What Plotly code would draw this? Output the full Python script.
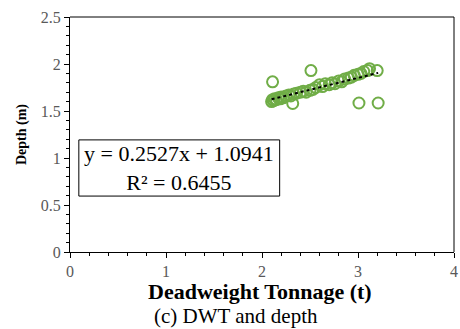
import plotly.graph_objects as go

# Deadweight tonnage (t) and depth (m) observations
dwt = [2.10, 2.11, 2.12, 2.13, 2.15, 2.17, 2.19, 2.20, 2.22, 2.25, 2.28, 2.30,
       2.33, 2.36, 2.40, 2.43, 2.46, 2.50, 2.53, 2.56, 2.60, 2.63, 2.66, 2.70,
       2.73, 2.76, 2.80, 2.83, 2.86, 2.90, 2.93, 2.96, 3.00, 3.03, 3.06, 3.10,
       2.11, 2.51, 2.32, 3.01, 3.21, 3.20, 3.12]
depth = [1.60, 1.62, 1.61, 1.63, 1.62, 1.64, 1.63, 1.65, 1.64, 1.66, 1.67, 1.66,
         1.68, 1.69, 1.70, 1.71, 1.70, 1.72, 1.73, 1.75, 1.78, 1.76, 1.79, 1.78,
         1.80, 1.79, 1.82, 1.81, 1.84, 1.85, 1.86, 1.88, 1.89, 1.90, 1.92, 1.93,
         1.81, 1.93, 1.58, 1.585, 1.585, 1.93, 1.95]

# Linear fit coefficients
slope = 0.2527
intercept = 1.0941
r2 = 0.6455

x_ticks = [0, 1, 2, 3, 4]
y_ticks = [0, 0.5, 1, 1.5, 2, 2.5]

green = "#70AD47"
serif = "Liberation Serif"

x_fit = [min(dwt), max(dwt)]
y_fit = [slope * v + intercept for v in x_fit]

fig = go.Figure()
fig.add_trace(go.Scatter(
    x=dwt, y=depth, mode="markers",
    marker=dict(symbol="circle-open", size=11, color=green, line=dict(width=2, color=green)),
    showlegend=False,
))
fig.add_trace(go.Scatter(
    x=x_fit, y=y_fit, mode="lines",
    line=dict(color="black", width=2, dash="dot"),
    showlegend=False,
))

axis_common = dict(
    showgrid=False, zeroline=False, showline=True, linecolor="black", linewidth=1,
    ticks="outside", ticklen=5, tickcolor="black", mirror=False,
    tickfont=dict(family=serif, size=16, color="#595959"),
    ticklabeloverflow="allow",
)

fig.update_layout(
    width=460, height=329,
    margin=dict(l=70, r=2, t=17, b=77),
    plot_bgcolor="white", paper_bgcolor="white",
    xaxis=dict(range=[0, 4], tickvals=x_ticks, ticktext=[str(v) for v in x_ticks],
               minor=dict(dtick=0.2, ticks="outside", ticklen=3, tickcolor="black"),
               **axis_common),
    yaxis=dict(range=[0, 2.5], tickvals=y_ticks, ticktext=[f"{v:g}" for v in y_ticks],
               minor=dict(dtick=0.1, ticks="outside", ticklen=3, tickcolor="black"),
               title=dict(text="<b>Depth (m)</b>", font=dict(family=serif, size=14, color="black"),
                          standoff=10),
               **axis_common),
    shapes=[
        # top and right frame of the plot area
        dict(type="line", xref="paper", yref="paper", x0=0, x1=1, y0=1, y1=1,
             line=dict(color="black", width=1)),
        dict(type="line", xref="paper", yref="paper", x0=1, x1=1, y0=0, y1=1,
             line=dict(color="black", width=1)),
        # frame around the regression equation
        dict(type="rect", xref="paper", yref="paper", x0=0.023, x1=0.546, y0=0.238, y1=0.477,
             line=dict(color="black", width=1), fillcolor="white", layer="above"),
    ],
    annotations=[
        dict(xref="paper", yref="paper", x=0.285, y=0.357, xanchor="center", yanchor="middle",
             text=f"y = {slope}x + {intercept}<br>R² = {r2}", showarrow=False,
             align="center", font=dict(family=serif, size=22, color="black")),
        dict(xref="paper", yref="paper", x=0.495, y=-0.168, xanchor="center", yanchor="middle",
             text="<b>Deadweight Tonnage (t)</b>", showarrow=False,
             font=dict(family=serif, size=22, color="black")),
        dict(xref="paper", yref="paper", x=0.432, y=-0.274, xanchor="center", yanchor="middle",
             text="(c) DWT and depth", showarrow=False,
             font=dict(family=serif, size=21, color="black")),
    ],
)

fig.write_html("out.html")
